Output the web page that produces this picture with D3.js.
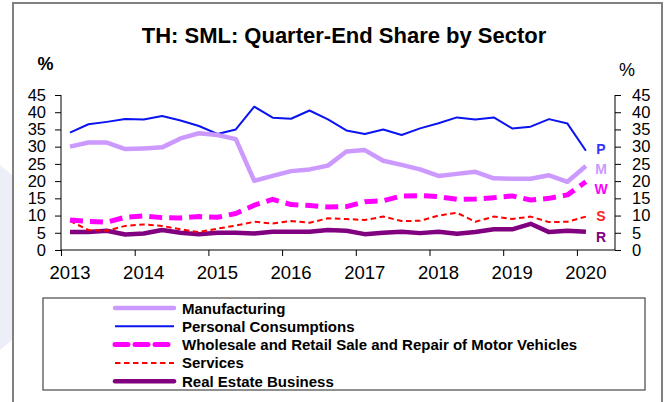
<!DOCTYPE html>
<html>
<head>
<meta charset="utf-8">
<script src="https://cdn.jsdelivr.net/npm/d3@7"></script>
<style>
  body { margin: 0; background: #fff; }
  svg { display: block; font-family: "Liberation Sans", Arial, sans-serif; }
</style>
</head>
<body>
<div id="chart"></div>
<script>
// quarterly data, Q1 2013 .. Q1 2020
const startYear = 2013;
const yearTicks = [2013, 2014, 2015, 2016, 2017, 2018, 2019, 2020];
const yTicks = [0, 5, 10, 15, 20, 25, 30, 35, 40, 45];

const manufacturing = [30.0, 31.2, 31.2, 29.3, 29.5, 29.8, 32.4, 33.9, 33.4, 32.2,
  20.1, 21.5, 22.9, 23.4, 24.5, 28.6, 29.0, 25.9, 24.7, 23.4,
  21.5, 22.1, 22.7, 20.8, 20.7, 20.7, 21.7, 19.8, 24.4];
const personal = [34.1, 36.5, 37.2, 38.0, 37.9, 38.9, 37.6, 36.0, 33.7, 35.0,
  41.6, 38.4, 38.1, 40.5, 37.9, 34.7, 33.7, 35.0, 33.4, 35.3,
  36.8, 38.5, 37.9, 38.5, 35.3, 35.8, 38.0, 36.7, 28.8];
const wholesale = [8.7, 8.3, 8.1, 9.5, 9.9, 9.4, 9.3, 9.7, 9.5, 10.6,
  13.0, 14.7, 13.2, 12.9, 12.5, 12.6, 14.0, 14.3, 15.7, 15.8,
  15.5, 14.7, 14.8, 15.2, 15.7, 14.5, 15.0, 16.0, 19.8];
const services = [8.4, 5.8, 5.6, 7.0, 7.4, 7.0, 6.0, 5.2, 6.2, 7.1,
  8.2, 7.7, 8.4, 7.9, 9.2, 9.0, 8.7, 9.7, 8.4, 8.5,
  10.0, 10.8, 8.2, 9.7, 9.0, 9.7, 8.1, 8.2, 9.7];
const realEstate = [5.2, 5.2, 5.6, 4.5, 4.8, 5.8, 5.0, 4.6, 5.0, 5.0,
  4.8, 5.3, 5.3, 5.3, 5.8, 5.6, 4.6, 5.0, 5.3, 4.9,
  5.3, 4.7, 5.2, 6.0, 6.0, 7.6, 5.2, 5.6, 5.3];

const series = [
  {name: "Manufacturing", tag: "M", values: manufacturing, color: "#cc99ff", width: 4.5, dash: null, tagColor: "#cc99ff"},
  {name: "Personal Consumptions", tag: "P", values: personal, color: "#0a14f0", width: 2, dash: null, tagColor: "#3333ff"},
  {name: "Wholesale and Retail Sale and Repair of Motor Vehicles", tag: "W", values: wholesale, color: "#ff00ff", width: 5, dash: "13,7", tagColor: "#ff00ff"},
  {name: "Services", tag: "S", values: services, color: "#ff0000", width: 2, dash: "5.5,3.5", tagColor: "#ff2020"},
  {name: "Real Estate Business", tag: "R", values: realEstate, color: "#800080", width: 4.5, dash: null, tagColor: "#800080"}
];

const width = 669, height = 402;
const svg = d3.select("#chart").append("svg")
  .attr("width", width).attr("height", height);

// faint backdrop on the left edge
svg.append("path")
  .attr("d", "M0,165 L12,175 L12,340 L0,350 Z")
  .attr("fill", "#eceef8");

// outer frame
svg.append("rect")
  .attr("x", 13).attr("y", 3).attr("width", 649).attr("height", 410)
  .attr("fill", "#fff").attr("stroke", "#808080").attr("stroke-width", 2);

svg.append("text")
  .attr("x", 344).attr("y", 43)
  .attr("text-anchor", "middle")
  .attr("font-size", 22).attr("font-weight", "bold")
  .text("TH: SML: Quarter-End Share by Sector");

const x = d3.scaleLinear().domain([2013, 2020.517]).range([61, 615]);
const y = d3.scaleLinear().domain([0, 45]).range([250, 95]);
const qx = i => startYear + 0.122 + i * 0.25;

// axes
const left = svg.append("g").attr("transform", "translate(61,0)")
  .call(d3.axisLeft(y).tickValues(yTicks).tickSize(6).tickPadding(9));
const right = svg.append("g").attr("transform", "translate(615,0)")
  .call(d3.axisRight(y).tickValues(yTicks).tickSize(6).tickPadding(11));
const bottom = svg.append("g").attr("transform", "translate(0,250)")
  .call(d3.axisBottom(x).tickValues(yearTicks).tickSize(6).tickFormat(""));

[left, right, bottom].forEach(g => {
  g.select(".domain").attr("stroke", "#000").attr("stroke-width", 1);
  g.selectAll(".tick line").attr("stroke", "#000");
  g.selectAll("text").attr("font-size", 16.5).attr("font-family", "Liberation Sans, Arial, sans-serif").attr("fill", "#000");
});
left.select(".domain").attr("d", "M0,95V250");
right.select(".domain").attr("d", "M0,95V250");
bottom.select(".domain").attr("d", "M61,0H615");

svg.append("g").selectAll("text")
  .data(yearTicks)
  .join("text")
  .attr("x", d => x(d + 0.122))
  .attr("y", 279)
  .attr("text-anchor", "middle")
  .attr("font-size", 18.5)
  .text(d => d);

svg.append("text").attr("x", 45.5).attr("y", 70).attr("text-anchor", "middle")
  .attr("font-size", 18).attr("font-weight", "bold").text("%");
svg.append("text").attr("x", 627).attr("y", 76).attr("text-anchor", "middle")
  .attr("font-size", 18).text("%");

const line = d3.line().x((d, i) => x(qx(i))).y(d => y(d));

// draw back to front like the original
[...series].reverse().forEach(s => {
  svg.append("path")
    .datum(s.values)
    .attr("d", line)
    .attr("fill", "none")
    .attr("stroke", s.color)
    .attr("stroke-width", s.width)
    .attr("stroke-dasharray", s.dash)
    .attr("stroke-linejoin", "round");
});

// end tags
const tagY = {P: 148, M: 168, W: 188, S: 215, R: 236};
series.forEach(s => {
  svg.append("text")
    .attr("x", 601).attr("y", tagY[s.tag] + 5.5)
    .attr("text-anchor", "middle")
    .attr("font-size", 14).attr("font-weight", "bold")
    .attr("fill", s.tagColor)
    .text(s.tag);
});

// legend
svg.append("rect")
  .attr("x", 43).attr("y", 298).attr("width", 602).attr("height", 92)
  .attr("fill", "#fff").attr("stroke", "#555").attr("stroke-width", 1.3);

const legend = svg.append("g");
series.forEach((s, i) => {
  const ly = 308 + i * 18.3;
  legend.append("line")
    .attr("x1", 115).attr("x2", 174).attr("y1", ly).attr("y2", ly)
    .attr("stroke", s.color)
    .attr("stroke-width", s.width)
    .attr("stroke-dasharray", s.dash)
    .attr("stroke-linecap", s.width > 3 ? "round" : "butt");
  legend.append("text")
    .attr("x", 182).attr("y", ly + 5.5)
    .attr("font-size", 15).attr("font-weight", "bold")
    .text(s.name);
});
</script>
</body>
</html>
